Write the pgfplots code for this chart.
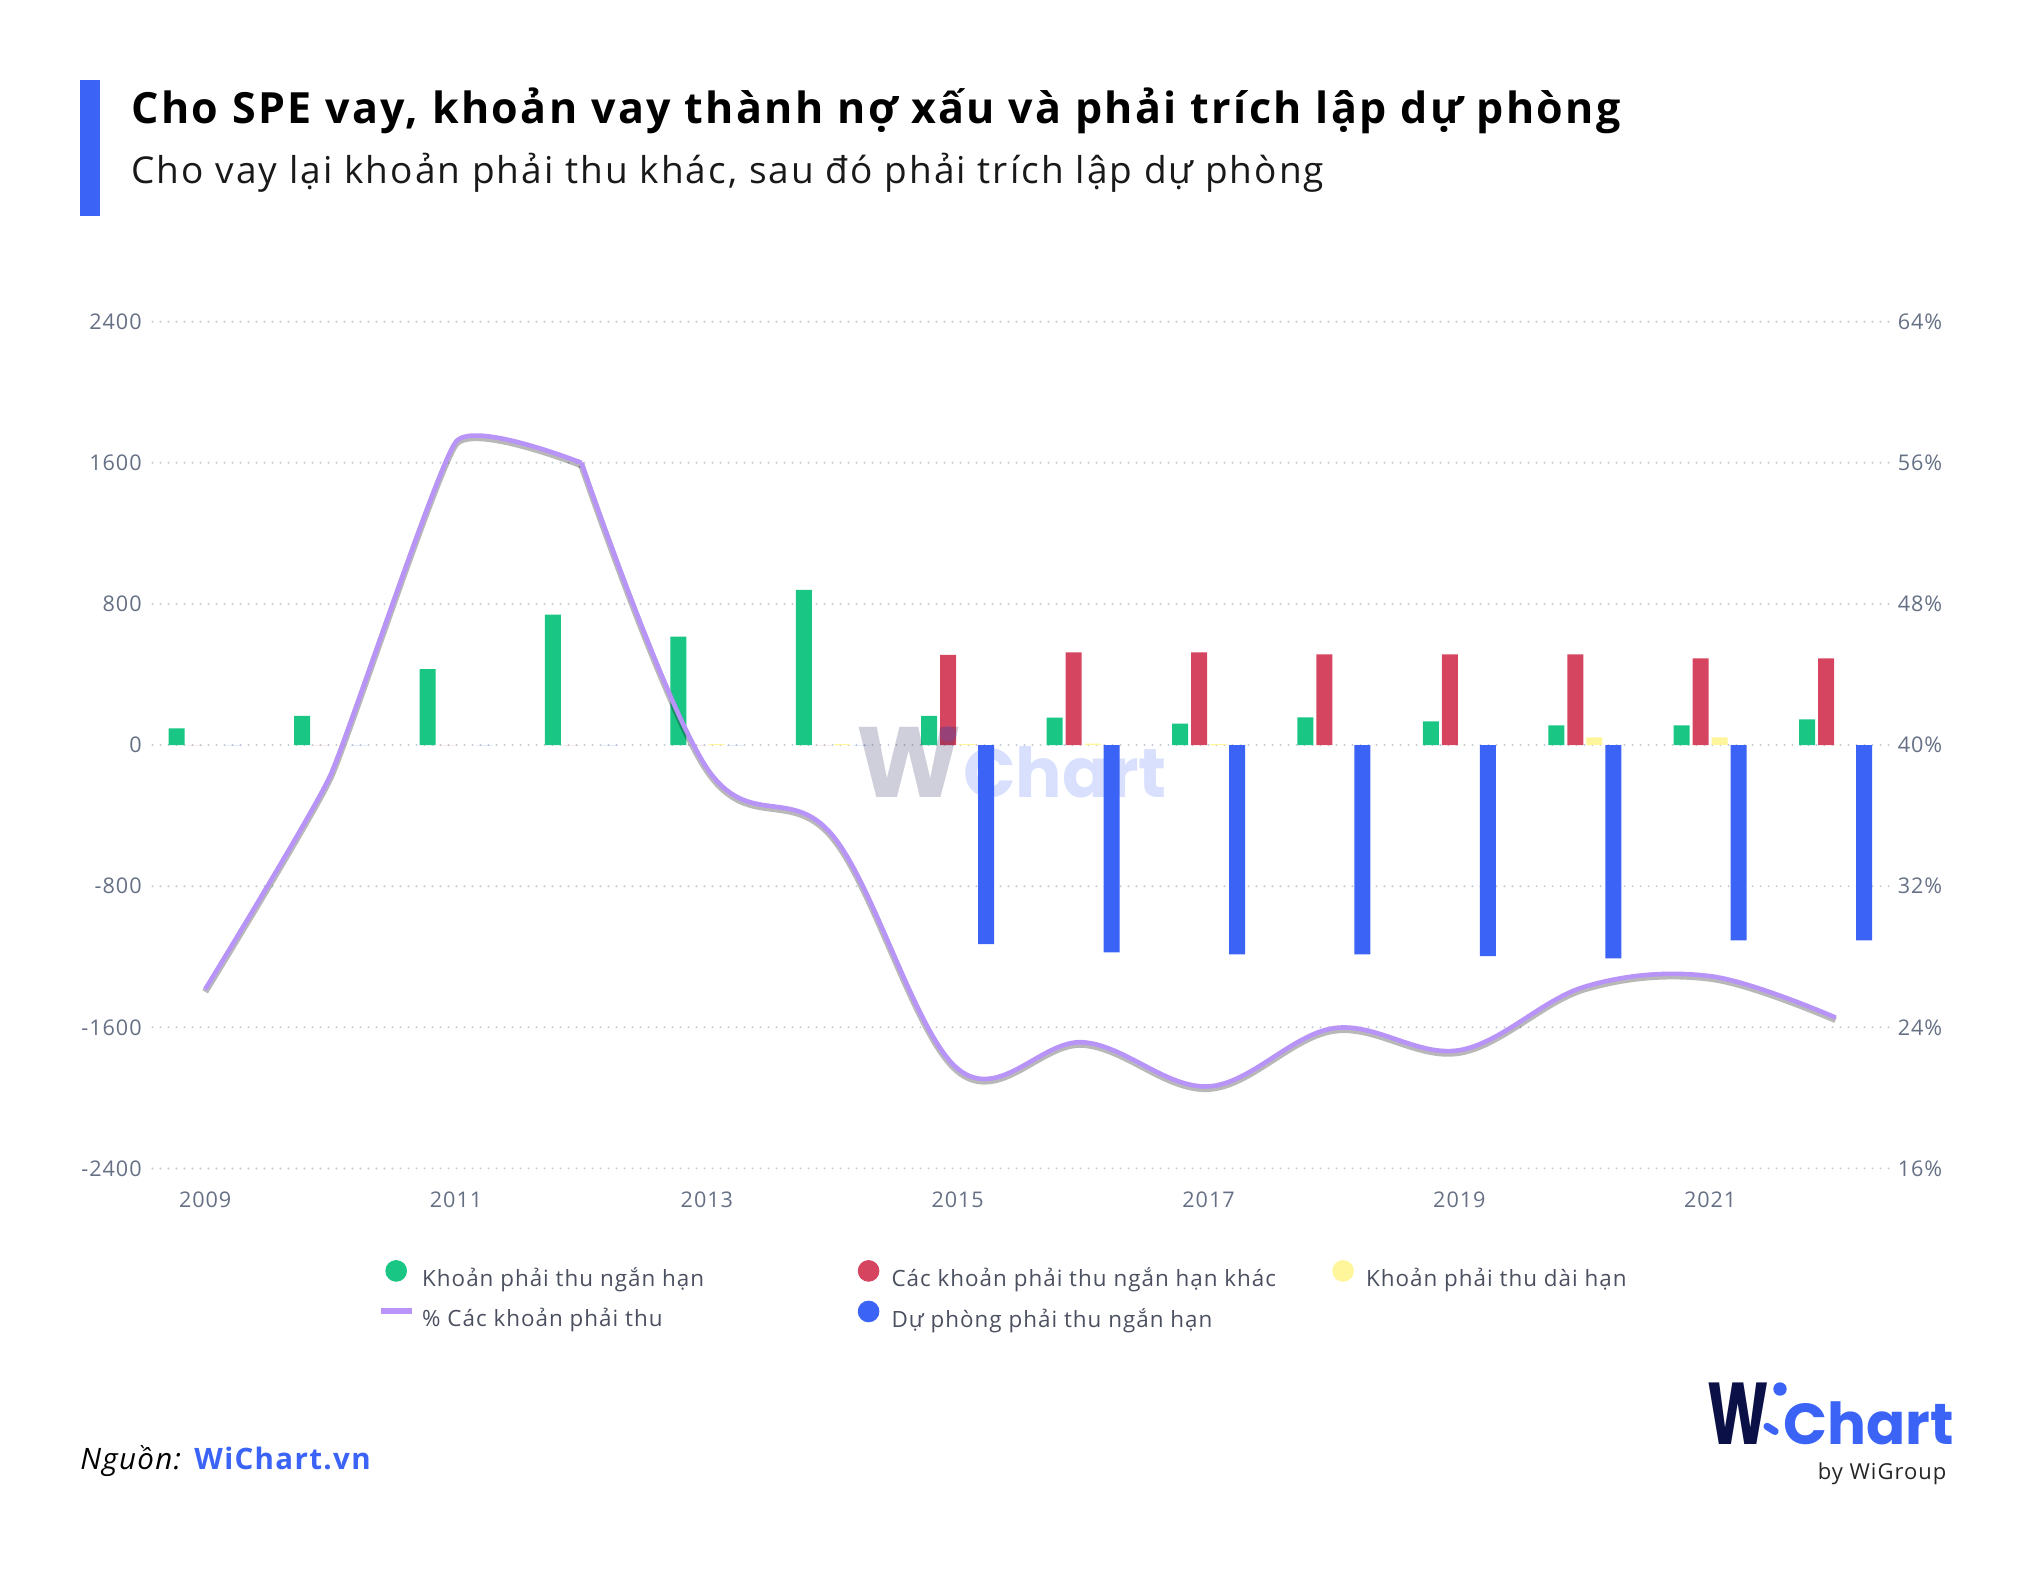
\documentclass[border=0pt]{standalone}
\usepackage{pgfplots}
\pgfplotsset{compat=1.18}
\usepackage{pgfplotstable}
\usepackage{fontspec}
\setmainfont{Open Sans}[LetterSpace=4.5]
\newfontfamily\titlefont{Open Sans}[LetterSpace=5.7]
\newfontfamily\subtitlefont{Open Sans}[LetterSpace=5.6]
\newfontfamily\logofont{Poppins}

\definecolor{cgreen}{HTML}{19C684}
\definecolor{cred}{HTML}{D6455F}
\definecolor{cyellow}{HTML}{FFF59A}
\definecolor{cblue}{HTML}{3B63F6}
\definecolor{cpurple}{HTML}{B894F8}
\definecolor{cgrid}{HTML}{C3CBD6}
\definecolor{ctick}{HTML}{667085}
\definecolor{clegend}{HTML}{4B5060}
\definecolor{cnavy}{HTML}{0B1046}

\pgfplotstableread{
year green red yellow blue
2009 95 0 0 0
2010 165 0 0 0
2011 430 0 0 0
2012 740 0 0 0
2013 614 0 5 0
2014 879 0 5 0
2015 166 511 5 -1128
2016 155 526 8 -1175
2017 121 526 5 -1187
2018 157 514 0 -1187
2019 134 514 0 -1197
2020 112 514 43 -1209
2021 112 492 43 -1108
2022 146 492 0 -1108
}\bartable

% % Cac khoan phai thu, split at 2012 where the curve bends
\pgfplotstableread{
year pct
2009 26.15
2010 38.3
2011 57.2
2012 56.0
}\pcttableA
\pgfplotstableread{
year pct
2012 56.0
2013 38.7
2014 34.9
2015 21.65
2016 23.15
2017 20.65
2018 23.95
2019 22.7
2020 26.3
2021 26.9
2022 24.55
}\pcttableB

\pgfplotsset{common/.style={
  at={(76.25pt,203.8pt)}, anchor=south west, scale only axis,
  width=869.75pt, height=423.35pt,
  xmin=2008.58, xmax=2022.45,
  axis line style={draw=none}, major tick length=0pt,
  tick label style={font=\fontsize{10.8}{12}\selectfont, text=ctick},
}}

\begin{document}
\begin{tikzpicture}[x=1pt,y=1pt]
\path[use as bounding box] (0,0) rectangle (1014,788);
\fill[cblue] (40,680) rectangle (50,748);
\node[anchor=base west, inner sep=0pt, font=\titlefont\bfseries\fontsize{21.5}{25}\selectfont] at (65.5,726.35) {Cho SPE vay, khoản vay thành nợ xấu và phải trích lập dự phòng};
\node[anchor=base west, inner sep=0pt, font=\subtitlefont\fontsize{18.5}{22}\selectfont, text=black!90] at (65.5,696.35) {Cho vay lại khoản phải thu khác, sau đó phải trích lập dự phòng};

\begin{axis}[common,
  ymin=-2400, ymax=2400,
  ytick={-2400,-1600,-800,0,800,1600,2400},
  yticklabels={-2400,-1600,-800,0,800,1600,2400},
  xtick={2009,2011,2013,2015,2017,2019,2021},
  xticklabels={2009,2011,2013,2015,2017,2019,2021},
  ymajorgrids,
  major grid style={cgrid, line width=1.1pt, line cap=round, dash pattern=on 0pt off 4pt},
  yticklabel style={anchor=east, inner sep=0pt, xshift=-5.25pt},
  xticklabel style={anchor=north, inner sep=0pt, yshift=-11.5pt},
]
\addplot[ybar, bar width=8pt, bar shift=-14.25pt, fill=cgreen, draw=none] table[x=year, y=green] {\bartable};
\addplot[ybar, bar width=8pt, bar shift=-4.75pt, fill=cred, draw=none] table[x=year, y=red] {\bartable};
\addplot[ybar, bar width=8pt, bar shift=4.75pt, fill=cyellow, draw=none] table[x=year, y=yellow] {\bartable};
\addplot[ybar, bar width=8pt, bar shift=14.25pt, fill=cblue, draw=none] table[x=year, y=blue] {\bartable};
\end{axis}

\begin{axis}[common,
  ymin=16, ymax=64,
  ytick={16,24,32,40,48,56,64},
  yticklabels={16\%,24\%,32\%,40\%,48\%,56\%,64\%},
  axis y line*=right, hide x axis,
  yticklabel style={anchor=west, inner sep=0pt, xshift=2.7pt},
  legend columns=3, legend cell align=left,
  legend style={at={(axis description cs:0.12946,-0.1083)}, anchor=north west,
    draw=none, fill=none, inner sep=0pt, outer sep=0pt,
    font=\fontsize{11.2}{13}\selectfont, text=clegend,
    nodes={inner sep=0pt}, column sep=0pt, row sep=5.5pt},
]
\addlegendimage{legend image code/.code={\path[draw=none,fill=none] (-7.75pt,-1pt) rectangle (7.75pt,9pt); \fill[cgreen] (0pt,3.9pt) circle (5.2pt);}}
\addlegendentry{\hspace{3.75pt}\makebox[215.45pt][l]{Khoản phải thu ngắn hạn}}
\addlegendimage{legend image code/.code={\path[draw=none,fill=none] (-7.75pt,-1pt) rectangle (7.75pt,9pt); \fill[cred] (0pt,3.9pt) circle (5.2pt);}}
\addlegendentry{\hspace{3.75pt}\makebox[218pt][l]{Các khoản phải thu ngắn hạn khác}}
\addlegendimage{legend image code/.code={\path[draw=none,fill=none] (-7.75pt,-1pt) rectangle (7.75pt,9pt); \fill[cyellow] (0pt,3.9pt) circle (5.2pt);}}
\addlegendentry{\hspace{3.75pt}Khoản phải thu dài hạn}
% shadow
\addplot[forget plot, black, opacity=0.28, line width=3.2pt, smooth, tension=0.25, yshift=-1.2pt, line join=round] table[x=year, y=pct] {\pcttableA};
\addplot[forget plot, black, opacity=0.28, line width=3.2pt, smooth, tension=0.6, yshift=-1.2pt, line join=round] table[x=year, y=pct] {\pcttableB};
% line
\addplot[forget plot, cpurple, line width=2.3pt, smooth, tension=0.25, line join=round] table[x=year, y=pct] {\pcttableA};
\addplot[cpurple, line width=2.3pt, smooth, tension=0.6, line join=round,
  legend image code/.code={\path[draw=none,fill=none] (-7.75pt,-1pt) rectangle (7.75pt,9pt); \draw[cpurple, line width=3pt] (-7.75pt,3.9pt) -- (7.75pt,3.9pt);}] table[x=year, y=pct] {\pcttableB};
\addlegendentry{\hspace{3.75pt}\makebox[215.45pt][l]{\% Các khoản phải thu}}
\addlegendimage{legend image code/.code={\path[draw=none,fill=none] (-7.75pt,-1pt) rectangle (7.75pt,9pt); \fill[cblue] (0pt,3.9pt) circle (5.2pt);}}
\addlegendentry{\hspace{3.75pt}\makebox[218pt][l]{Dự phòng phải thu ngắn hạn}}
\end{axis}

% watermark
\node[anchor=base west, inner sep=0pt, font=\logofont\bfseries\fontsize{50}{50}\selectfont, text=cnavy, text opacity=0.2] at (428,389) {W};
\fill[cblue, opacity=0.2] (474,421) circle (4pt);
\node[anchor=base west, inner sep=0pt, font=\logofont\bfseries\fontsize{34.5}{36}\selectfont, text=cblue, text opacity=0.2] at (481.5,389) {Chart};

% source
\node[anchor=base west, inner sep=0pt, font=\fontsize{14.75}{18}\selectfont] at (40,53.3) {\textit{Nguồn:} \textcolor{cblue}{\bfseries WiChart.vn}};

% logo
\node[anchor=base west, inner sep=0pt, text depth=0pt, font=\logofont\bfseries\fontsize{29.8}{30}\selectfont] at (853.35,66) {\resizebox{30.7pt}{30.8pt}{\textcolor{cnavy}{W}}};
\fill[cblue] (890,93.5) circle (3.35pt);
\draw[cblue, line width=3.6pt, line cap=round] (883.5,74.8) -- (887.5,72.3);
\node[anchor=base west, inner sep=0pt, text depth=0pt, font=\logofont\bfseries\fontsize{28.9}{30}\selectfont, text=cblue] at (891.5,66) {Chart};
\node[anchor=base east, inner sep=0pt, font=\fontsize{11}{13}\selectfont, text=black!85] at (973.35,48.3) {by WiGroup};
\end{tikzpicture}
\end{document}
